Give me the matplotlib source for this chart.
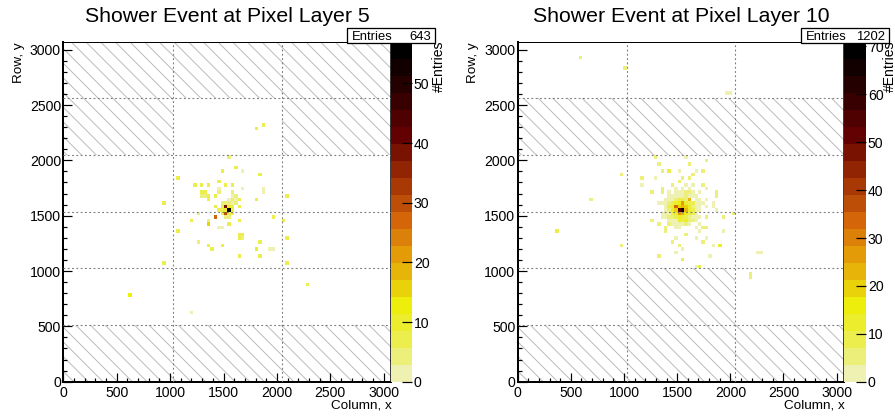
import numpy as np
import matplotlib
matplotlib.use("Agg")
import matplotlib.pyplot as plt
from matplotlib.colors import ListedColormap, BoundaryNorm
from matplotlib.patches import Rectangle
from matplotlib.ticker import MultipleLocator

DPI = 88
W, H = 895, 417


def pt(px):
    """pixels -> points at the output resolution"""
    return px * 72.0 / DPI


def fx(x):
    return x / W


def fy(y):
    return 1.0 - y / H


plt.rcParams["font.family"] = ["Liberation Sans", "DejaVu Sans"]
plt.rcParams["hatch.linewidth"] = pt(1.0)
plt.rcParams["lines.scale_dashes"] = False

# ---------------------------------------------------------------- data
SENSOR_SIZE = 3072          # pixels per side of a layer
BIN_SIZE = 32               # histogram binning (pixels)
CHIP_W, CHIP_H = 1024, 512  # chip footprint

# (column bin, row bin, hits) -- bins of 32 x 32 pixels
layer5_hits = [
    (19, 24, 14), (37, 19, 2), (71, 27, 7), (29, 33, 7), (65, 33, 7), (29, 50, 7), (33, 42, 7), (33, 57, 7),
    (56, 71, 6), (58, 72, 7), (48, 63, 5), (50, 60, 6), (46, 59, 6), (52, 59, 2), (57, 58, 6), (45, 56, 7),
    (38, 55, 6), (40, 55, 7), (42, 55, 7), (47, 55, 7), (49, 55, 7), (45, 54, 2), (52, 54, 2), (58, 54, 2),
    (58, 53, 2), (40, 53, 6), (41, 53, 7), (40, 52, 5), (41, 52, 4), (45, 53, 3), (49, 53, 3), (42, 52, 7),
    (44, 52, 6), (42, 51, 7), (51, 51, 7), (56, 51, 7), (65, 52, 6), (49, 52, 2), (50, 52, 3), (48, 51, 2),
    (49, 51, 3), (50, 51, 2), (48, 50, 3), (49, 50, 2), (50, 50, 3), (44, 49, 7), (51, 49, 7), (44, 46, 28),
    (39, 47, 3), (37, 45, 7), (42, 45, 5), (42, 44, 15), (48, 44, 6), (45, 43, 2), (46, 43, 2), (51, 45, 7),
    (61, 46, 6), (64, 45, 6), (51, 41, 7), (52, 41, 6), (51, 40, 6), (52, 40, 5), (39, 39, 4), (57, 39, 6),
    (65, 40, 7), (42, 38, 7), (43, 37, 6), (46, 38, 6), (56, 37, 11), (60, 37, 2), (61, 37, 2), (51, 35, 7),
    (57, 35, 6),
    (48, 48, 57), (47, 49, 38), (47, 48, 10), (47, 47, 30), (48, 49, 10), (49, 48, 8), (48, 47, 8),
    (49, 49, 7), (46, 48, 7), (46, 49, 7), (49, 47, 8), (46, 47, 7), (45, 48, 6), (47, 50, 4), (48, 46, 4),
    (47, 46, 5), (46, 50, 5),
]

layer10_hits = [
    (18, 91, 6), (31, 88, 6), (61, 81, 3), (62, 81, 3), (40, 63, 4), (49, 63, 3), (41, 61, 7), (50, 61, 7),
    (55, 62, 5), (30, 58, 6), (42, 59, 6), (44, 59, 8), (47, 59, 2), (52, 59, 2), (54, 59, 6), (36, 57, 6),
    (40, 57, 2), (48, 57, 4), (50, 57, 7), (51, 58, 5), (47, 56, 6), (45, 55, 6), (49, 55, 2), (51, 55, 2),
    (54, 55, 6), (36, 55, 2), (55, 54, 2), (42, 54, 7), (48, 54, 2), (39, 53, 7), (42, 53, 6), (50, 53, 6),
    (53, 53, 2), (58, 53, 7), (58, 52, 6), (44, 52, 2), (47, 52, 2), (21, 51, 7), (41, 50, 3), (42, 50, 3),
    (55, 49, 2), (57, 49, 2), (58, 48, 2), (63, 47, 6), (60, 46, 6), (39, 45, 6), (41, 44, 7), (44, 44, 7),
    (43, 43, 7), (43, 42, 7), (46, 43, 2), (47, 43, 3), (51, 45, 7), (53, 46, 2), (55, 46, 6), (52, 43, 2),
    (54, 43, 6), (55, 43, 7), (53, 44, 2), (49, 41, 7), (46, 40, 2), (52, 40, 2), (55, 40, 2), (45, 39, 7),
    (54, 39, 6), (47, 38, 7), (46, 36, 3), (48, 37, 3), (53, 42, 2), (60, 42, 2), (57, 38, 2), (59, 38, 13),
    (41, 35, 7), (48, 34, 9), (56, 35, 3), (52, 32, 3), (53, 32, 8), (30, 38, 4), (11, 42, 10), (70, 36, 3),
    (71, 36, 3), (68, 29, 4), (68, 30, 4),
    (48, 48, 71), (47, 48, 53), (46, 49, 34), (48, 50, 26), (50, 51, 22), (47, 47, 26), (48, 49, 24),
    (49, 48, 22), (48, 47, 22), (47, 49, 20), (49, 49, 18), (46, 48, 18), (49, 47, 16), (47, 50, 16),
    (46, 50, 12), (45, 50, 10), (49, 50, 14), (45, 49, 12), (45, 48, 12), (46, 47, 14), (50, 49, 12),
    (50, 48, 12), (50, 47, 10), (48, 46, 13), (47, 46, 11), (46, 46, 9), (49, 46, 10), (50, 50, 9),
    (48, 51, 8), (47, 51, 8), (49, 51, 6), (46, 51, 4), (45, 51, 3), (44, 50, 7), (44, 49, 8), (44, 48, 4),
    (44, 47, 3), (45, 47, 8), (45, 46, 4), (45, 45, 3), (47, 45, 11), (48, 45, 8), (49, 45, 13), (46, 45, 3),
    (51, 48, 9), (51, 47, 8), (52, 48, 3), (52, 49, 3), (51, 50, 9), (52, 50, 3), (51, 46, 3), (52, 47, 2),
    (53, 49, 2), (54, 50, 2), (53, 48, 3), (46, 44, 2), (48, 44, 3), (50, 44, 3), (43, 49, 3), (43, 48, 2),
    (43, 50, 2), (46, 52, 3), (45, 52, 2), (48, 52, 3), (49, 52, 4), (50, 52, 3), (48, 53, 2), (46, 53, 2),
    (51, 52, 2), (51, 53, 3), (49, 53, 4), (52, 51, 2), (53, 51, 2), (55, 51, 2), (57, 50, 2), (42, 47, 2),
    (42, 46, 3), (44, 46, 4), (43, 47, 3), (43, 46, 2), (44, 51, 3), (43, 51, 2), (50, 46, 6), (50, 45, 4),
    (51, 49, 6), (52, 46, 3), (52, 45, 2), (49, 44, 4), (47, 44, 3), (45, 44, 3), (44, 45, 2), (47, 53, 3),
    (50, 54, 2), (53, 50, 3), (52, 52, 2), (46, 54, 2), (44, 53, 2),
]

# (chip column, chip row) of chips without data
layer5_dead_chips = [(0, 5), (1, 5), (2, 5), (0, 4), (2, 4), (0, 0), (1, 0), (2, 0)]
layer10_dead_chips = [(0, 4), (1, 4), (2, 4), (1, 1), (0, 0), (1, 0), (2, 0)]

layer5_title = "Shower Event at Pixel Layer 5"
layer10_title = "Shower Event at Pixel Layer 10"
layer5_zticks = [0, 10, 20, 30, 40, 50]
layer10_zticks = [0, 10, 20, 30, 40, 50, 60, 70]

# ------------------------------------------------------- colour palette
# inverted "dark body radiator" gradient, 255 colours, 20 contour bands
PAL_R = [242, 234, 237, 230, 212, 156, 99, 45, 0]
PAL_G = [243, 238, 238, 168, 101, 45, 0, 0, 0]
PAL_B = [230, 95, 11, 8, 9, 3, 1, 1, 0]
N_PAL = 255
N_CONTOURS = 20


def build_palette():
    stops = np.linspace(0.0, 1.0, len(PAL_R))
    rgb = np.array([PAL_R, PAL_G, PAL_B], dtype=float).T / 255.0
    out = []
    for g in range(1, len(stops)):
        n = int(np.floor(N_PAL * stops[g]) - np.floor(N_PAL * stops[g - 1]))
        for c in range(n):
            out.append(rgb[g - 1] + (rgb[g] - rgb[g - 1]) * c / n)
    return np.array(out)


palette = build_palette()
band_colors = [palette[min(len(palette) - 1, int((i + 0.99) * len(palette) / N_CONTOURS))]
               for i in range(N_CONTOURS)]
cmap = ListedColormap(band_colors)

# ------------------------------------------------------------- figure
fig = plt.figure(figsize=(W / DPI, H / DPI), dpi=DPI)
fig.patch.set_facecolor("white")

FS_TICK = pt(14)
FS_LABEL = pt(13.5)


def draw_layer(x0, x1, cbar_x1, title, hits, dead_chips, zticks):
    top, bottom = 41.7, 381.7
    ax = fig.add_axes([fx(x0), fy(bottom), fx(x1) - fx(x0), fy(top) - fy(bottom)])
    cax = fig.add_axes([fx(x1), fy(bottom), fx(cbar_x1) - fx(x1), fy(top) - fy(bottom)])

    nb = SENSOR_SIZE // BIN_SIZE
    counts = np.zeros((nb, nb))
    cols, rows, vals = np.array(hits).T
    np.add.at(counts, (cols, rows), vals)
    zmax = counts.max()
    edges = np.arange(0, SENSOR_SIZE + 1, BIN_SIZE)

    for cx, cy in dead_chips:
        ax.add_patch(Rectangle((cx * CHIP_W, cy * CHIP_H), CHIP_W, CHIP_H, fill=False,
                               hatch="\\\\", edgecolor="#bdbdbd", linewidth=0, zorder=1))

    norm = BoundaryNorm(np.linspace(0, zmax, N_CONTOURS + 1), N_CONTOURS)
    mesh = ax.pcolormesh(edges, edges, np.ma.masked_equal(counts.T, 0), cmap=cmap, norm=norm,
                         zorder=2, antialiased=False, linewidth=0)

    dots = (0, (pt(1.8), pt(2.5)))
    for x in range(CHIP_W, SENSOR_SIZE, CHIP_W):
        ax.axvline(x, color="#7a7a7a", lw=pt(1.1), ls=dots, zorder=3)
    for y in range(CHIP_H, SENSOR_SIZE, CHIP_H):
        ax.axhline(y, color="#7a7a7a", lw=pt(1.1), ls=dots, zorder=3)

    ax.set_xlim(0, SENSOR_SIZE)
    ax.set_ylim(0, SENSOR_SIZE)
    for axis in (ax.xaxis, ax.yaxis):
        axis.set_major_locator(MultipleLocator(500))
        axis.set_minor_locator(MultipleLocator(100))
    ax.tick_params(which="both", direction="in", top=False, right=False, width=pt(1.2),
                   labelsize=FS_TICK, colors="black")
    ax.tick_params(which="major", length=pt(9))
    ax.tick_params(which="minor", length=pt(4))
    ax.tick_params(axis="x", pad=pt(4))
    ax.tick_params(axis="y", pad=pt(2.5))
    ax.spines["left"].set_linewidth(pt(2))
    ax.spines["bottom"].set_linewidth(pt(2))
    ax.spines["top"].set_linewidth(pt(1))
    ax.spines["right"].set_linewidth(pt(1.5))

    cb = fig.colorbar(mesh, cax=cax, ticks=zticks)
    cb.outline.set_visible(False)
    cax.minorticks_off()
    cax.tick_params(direction="in", length=pt(10), width=pt(1.2), labelsize=FS_TICK, pad=pt(1.5))

    # titles and axis labels
    fig.text(fx((x0 + x1) / 2), fy(21.7), title, ha="center", va="baseline", fontsize=pt(21.3))
    fig.text(fx(x1), fy(408), "Column, x", ha="right", va="baseline", fontsize=FS_LABEL)
    fig.text(fx(x0 - 41.7), fy(top + 1), "Row, y", ha="right", va="baseline", rotation=90,
             rotation_mode="anchor", fontsize=FS_LABEL)
    fig.text(fx(min(cbar_x1 + 30.5, W - 1.5)), fy(top - 1.5), "#Entries", ha="right", va="baseline",
             rotation=90, rotation_mode="anchor", fontsize=pt(14))

    # statistics box
    entries = int(round(vals.sum()))
    bx1 = cbar_x1 + 23
    bx0 = bx1 - 88.5
    fig.add_artist(Rectangle((fx(bx0), fy(43.3)), fx(bx1) - fx(bx0), fy(28.3) - fy(43.3),
                             transform=fig.transFigure, facecolor="white", edgecolor="black",
                             linewidth=pt(1.3), zorder=10))
    fig.text(fx(bx0 + 5), fy(40.2), "Entries", ha="left", va="baseline", fontsize=pt(13), zorder=11)
    fig.text(fx(bx1 - 4.5), fy(40.2), f"{entries}", ha="right", va="baseline", fontsize=pt(13), zorder=11)


draw_layer(63.4, 391.3, 412.3, layer5_title, layer5_hits, layer5_dead_chips, layer5_zticks)
draw_layer(517.7, 844.3, 866.3, layer10_title, layer10_hits, layer10_dead_chips, layer10_zticks)

fig.savefig("out.png", dpi=DPI)
